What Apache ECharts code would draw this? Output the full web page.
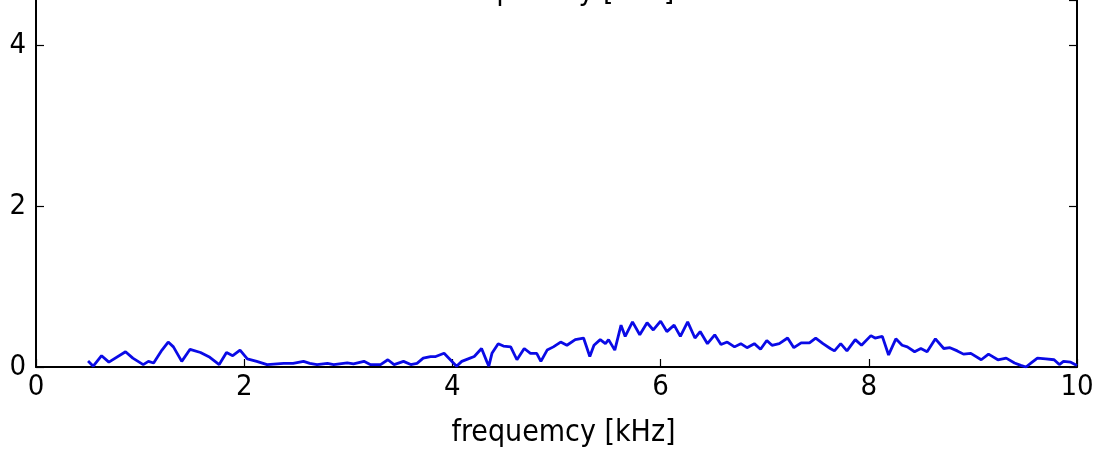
<!DOCTYPE html>
<html lang="en">
<head>
    <meta charset="utf-8">
    <script src="https://cdn.jsdelivr.net/npm/echarts@6/dist/echarts.min.js"></script>
    <style>
        html, body { margin: 0; padding: 0; background: #fff; }
    </style>
</head>
<body>
<div id="main" style="width: 1108px;height:451px;"></div>
<script type="text/javascript">
    // frequency axis [kHz] and spectrum amplitude
    var freq = [0.50, 0.55, 0.63, 0.70, 0.86, 0.93, 1.03, 1.08, 1.13, 1.21, 1.27, 1.32, 1.40, 1.48, 1.58, 1.67, 1.76, 1.83, 1.89, 1.96,
        2.03, 2.12, 2.22, 2.38, 2.47, 2.57, 2.63, 2.70, 2.80, 2.86, 2.99, 3.05, 3.15, 3.21, 3.31, 3.38, 3.44, 3.53, 3.60, 3.66,
        3.72, 3.79, 3.84, 3.92, 3.98, 4.04, 4.09, 4.17, 4.21, 4.28, 4.33, 4.35, 4.38, 4.44, 4.49, 4.56, 4.62, 4.69, 4.75, 4.81,
        4.85, 4.91, 4.97, 5.04, 5.10, 5.18, 5.26, 5.32, 5.36, 5.42, 5.47, 5.50, 5.56, 5.62, 5.66, 5.73, 5.80, 5.87, 5.93, 6.00,
        6.06, 6.13, 6.19, 6.26, 6.33, 6.38, 6.45, 6.52, 6.58, 6.64, 6.71, 6.77, 6.83, 6.90, 6.96, 7.02, 7.07, 7.14, 7.22, 7.28,
        7.35, 7.43, 7.49, 7.56, 7.63, 7.67, 7.73, 7.79, 7.87, 7.93, 8.02, 8.06, 8.13, 8.19, 8.26, 8.32, 8.37, 8.44, 8.50, 8.56,
        8.64, 8.72, 8.78, 8.85, 8.91, 8.98, 9.08, 9.15, 9.24, 9.32, 9.40, 9.46, 9.51, 9.56, 9.62, 9.70, 9.78, 9.83, 9.87, 9.94,
        10.0];
    var amp = [0.075, 0.01, 0.14, 0.06, 0.19, 0.11, 0.03, 0.07, 0.05, 0.21, 0.31, 0.25, 0.07, 0.22, 0.18, 0.12, 0.03, 0.18, 0.14, 0.21,
        0.10, 0.07, 0.03, 0.045, 0.045, 0.07, 0.045, 0.03, 0.045, 0.03, 0.05, 0.04, 0.07, 0.03, 0.03, 0.09, 0.03, 0.07, 0.03, 0.045,
        0.11, 0.13, 0.13, 0.17, 0.09, 0.01, 0.07, 0.11, 0.13, 0.23, 0.07, 0.01, 0.17, 0.29, 0.26, 0.25, 0.09, 0.23, 0.17, 0.17,
        0.07, 0.21, 0.25, 0.31, 0.27, 0.34, 0.36, 0.13, 0.27, 0.34, 0.29, 0.34, 0.21, 0.52, 0.38, 0.56, 0.40, 0.55, 0.46, 0.57,
        0.44, 0.52, 0.38, 0.56, 0.36, 0.44, 0.29, 0.40, 0.28, 0.31, 0.25, 0.29, 0.24, 0.29, 0.22, 0.33, 0.27, 0.29, 0.36, 0.24,
        0.30, 0.30, 0.36, 0.29, 0.23, 0.20, 0.29, 0.20, 0.34, 0.27, 0.39, 0.36, 0.38, 0.15, 0.35, 0.27, 0.25, 0.19, 0.23, 0.19,
        0.35, 0.23, 0.24, 0.20, 0.16, 0.17, 0.09, 0.16, 0.09, 0.11, 0.05, 0.02, 0.00, 0.05, 0.11, 0.10, 0.09, 0.03, 0.07, 0.06,
        0.02];
    var xTicks = [0, 10, 2];      // min, max, interval
    var yTicks = [0, 4.56, 2];    // top of the plot is cut off by the picture

    var points = freq.map(function (f, i) { return [f, amp[i]]; });

    var myChart = echarts.init(document.getElementById('main'));
    var font = 'DejaVu Sans Condensed, DejaVu Sans';

    var axisCommon = {
        axisLine: { show: true, lineStyle: { color: '#000', width: 2 } },
        axisTick: { show: true, inside: true, length: 8, lineStyle: { color: '#000', width: 1.2 } },
        splitLine: { show: false }
    };

    var option = {
        animation: false,
        backgroundColor: '#fff',
        graphic: [{
            type: 'text',
            left: 450,
            top: -23,
            style: { text: 'frequemcy [kHz]', fontFamily: font, fontSize: 30, fill: '#000' }
        }],
        grid: { left: 36, right: 31, top: 0, bottom: 84, containLabel: false, outerBoundsMode: 'none' },
        xAxis: Object.assign({}, axisCommon, {
            type: 'value',
            min: xTicks[0], max: xTicks[1], interval: xTicks[2],
            name: 'frequemcy [kHz]',
            nameLocation: 'middle',
            nameGap: 51,
            nameTextStyle: { fontFamily: font, fontSize: 30, color: '#000', padding: [0, 0, 0, 14] },
            axisLabel: { fontFamily: font, fontSize: 29, color: '#000', margin: 6 }
        }),
        yAxis: [
            Object.assign({}, axisCommon, {
                type: 'value',
                min: yTicks[0], max: yTicks[1], interval: yTicks[2],
                axisLabel: { fontFamily: font, fontSize: 29, color: '#000', margin: 10, showMaxLabel: false }
            }),
            Object.assign({}, axisCommon, {
                type: 'value', position: 'right',
                min: yTicks[0], max: yTicks[1], interval: yTicks[2],
                axisLabel: { show: false }
            })
        ],
        series: [{
            type: 'line',
            data: points,
            showSymbol: false,
            lineStyle: { color: '#0a0ae6', width: 2.8 },
            z: 1
        }]
    };
    myChart.setOption(option);
</script>
</body>
</html>
